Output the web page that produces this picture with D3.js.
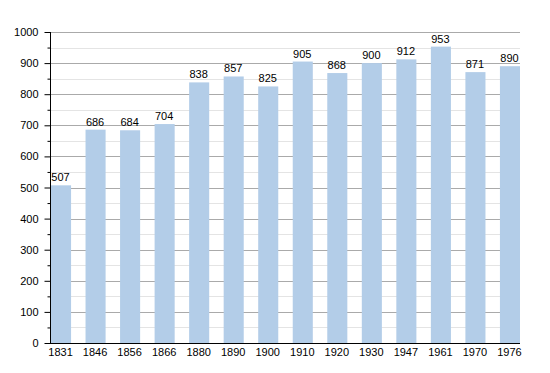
<!DOCTYPE html>
<html>
<head>
<meta charset="utf-8">
<script src="https://cdn.jsdelivr.net/npm/d3@7"></script>
<style>
  body { margin: 0; background: #fff; }
  text { font-family: "Liberation Sans", Arial, sans-serif; }
</style>
</head>
<body>
<svg id="chart" width="550" height="373"></svg>
<script>
let years = ["1831", "1846", "1856", "1866", "1880", "1890", "1900", "1910", "1920", "1930", "1947", "1961", "1970", "1976"];
let population = [507, 686, 684, 704, 838, 857, 825, 905, 868, 900, 912, 953, 871, 890];
let yTicks = [0, 100, 200, 300, 400, 500, 600, 700, 800, 900, 1000];
let yMinor = [50, 150, 250, 350, 450, 550, 650, 750, 850, 950];

let plotLeft = 50, plotRight = 520, plotTop = 32, plotBottom = 343;

let svg = d3.select("#chart");

let x = d3.scaleBand()
    .domain(years)
    .range([plotLeft, plotRight])
    .paddingInner(0.39)
    .paddingOuter(0);

let y = d3.scaleLinear()
    .domain([0, 1000])
    .range([plotBottom, plotTop]);

// minor grid
svg.append("g")
    .selectAll("line")
    .data(yMinor)
    .enter()
    .append("line")
    .attr("x1", plotLeft)
    .attr("x2", plotRight)
    .attr("y1", d => Math.round(y(d)) + 0.5)
    .attr("y2", d => Math.round(y(d)) + 0.5)
    .style("stroke", "#e4e4e4");

// major grid
svg.append("g")
    .selectAll("line")
    .data(yTicks.slice(1))
    .enter()
    .append("line")
    .attr("x1", plotLeft)
    .attr("x2", plotRight)
    .attr("y1", d => Math.round(y(d)) + 0.5)
    .attr("y2", d => Math.round(y(d)) + 0.5)
    .style("stroke", "#aaaaaa");

// bars
svg.append("g")
    .selectAll("rect")
    .data(population)
    .enter()
    .append("rect")
    .attr("x", (d, i) => x(years[i]) + 1)
    .attr("width", x.bandwidth() - 1)
    .attr("y", d => y(d))
    .attr("height", d => y(0) - y(d))
    .style("fill", "#b3cde8");

// value labels
svg.append("g")
    .selectAll("text")
    .data(population)
    .enter()
    .append("text")
    .attr("x", (d, i) => x(years[i]) + x.bandwidth() / 2)
    .attr("y", d => y(d) - 4)
    .attr("text-anchor", "middle")
    .style("font-size", "11px")
    .style("fill", "#000")
    .text(d => d);

// y axis
let yAxis = svg.append("g")
    .attr("transform", `translate(${plotLeft + 0.5},0)`)
    .call(d3.axisLeft(y).tickValues(yTicks).tickSize(6).tickPadding(6).tickFormat(d3.format("d")));
yAxis.select(".domain").attr("d", `M0,${plotTop}V${plotBottom}`);
yAxis.selectAll("text").style("font-size", "11px").style("font-family", "Liberation Sans, Arial, sans-serif");

svg.append("g")
    .attr("transform", `translate(${plotLeft + 0.5},0)`)
    .call(d3.axisLeft(y).tickValues(yMinor).tickSize(3).tickFormat(""))
    .select(".domain").remove();

// x axis
let xAxis = svg.append("g")
    .attr("transform", `translate(0,${plotBottom + 0.5})`)
    .call(d3.axisBottom(x).tickSize(0).tickPadding(5));
xAxis.select(".domain").attr("d", `M${plotLeft},0H${plotRight}`);
xAxis.selectAll("text").style("font-size", "11px").style("font-family", "Liberation Sans, Arial, sans-serif");
</script>
</body>
</html>
